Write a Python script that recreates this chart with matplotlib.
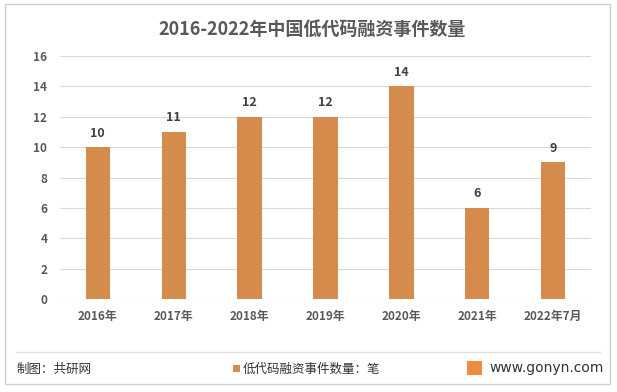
import matplotlib
matplotlib.use("Agg")
import matplotlib.pyplot as plt
from matplotlib.patches import Rectangle
from matplotlib.lines import Line2D

plt.rcParams['font.family'] = ['Noto Sans CJK SC', 'DejaVu Sans']

categories = ["2016年", "2017年", "2018年", "2019年", "2020年", "2021年", "2022年7月"]
values = [10, 11, 12, 12, 14, 6, 9]
yticks = [0, 2, 4, 6, 8, 10, 12, 14, 16]
title = "2016-2022年中国低代码融资事件数量"
legend_label = "低代码融资事件数量：笔"
bar_color = "#D58B4C"

fig = plt.figure(figsize=(6.17, 3.92), dpi=100)
ax = fig.add_axes([0.097, 0.237, 0.861, 0.620])

x = list(range(len(categories)))
ax.bar(x, values, width=0.32, color=bar_color, zorder=3)
for xi, v in zip(x, values):
    ax.text(xi, v + 0.5, str(v), ha='center', va='bottom', fontsize=9,
            fontweight='bold', color='#404040')

ax.set_xlim(-0.5, len(categories) - 0.5)
ax.set_ylim(0, 16)
ax.set_yticks(yticks)
ax.set_xticks(x)
ax.set_xticklabels(categories, fontsize=8.5, fontweight='bold', color='#595959')
ax.tick_params(axis='y', labelsize=8.5, colors='#595959', length=0, pad=9)
ax.tick_params(axis='x', length=0, pad=8)
for lab in ax.get_yticklabels():
    lab.set_fontweight('bold')
ax.grid(axis='y', color='#D9D9D9', linewidth=0.8, zorder=0)
for s in ax.spines.values():
    s.set_visible(False)

fig.text(0.506, 0.925, title, ha='center', va='center', fontsize=13,
         fontweight='bold', color='#595959')

# outer border
fig.add_artist(Rectangle((0.008, 0.02), 0.981, 0.97, transform=fig.transFigure,
                         fill=False, edgecolor='#D0D0D0', linewidth=1))
# separator line
fig.add_artist(Line2D([0.026, 0.973], [0.102, 0.102], transform=fig.transFigure,
                      color='#E0E0E0', linewidth=1))

fig.text(0.026, 0.058, "制图：共研网", ha='left', va='center', fontsize=9, color='#333333')
fig.add_artist(Rectangle((0.378, 0.050), 0.011, 0.018, transform=fig.transFigure,
                         facecolor=bar_color, edgecolor='none'))
fig.text(0.393, 0.058, legend_label, ha='left', va='center', fontsize=9, color='#333333')
fig.add_artist(Rectangle((0.757, 0.043), 0.024, 0.036, transform=fig.transFigure,
                         facecolor='#F08A3C', edgecolor='none'))
fig.text(0.794, 0.060, "www.gonyn.com", ha='left', va='center', fontsize=10,
         color='#333333', family='DejaVu Sans')

fig.savefig("out.png", dpi=100)
